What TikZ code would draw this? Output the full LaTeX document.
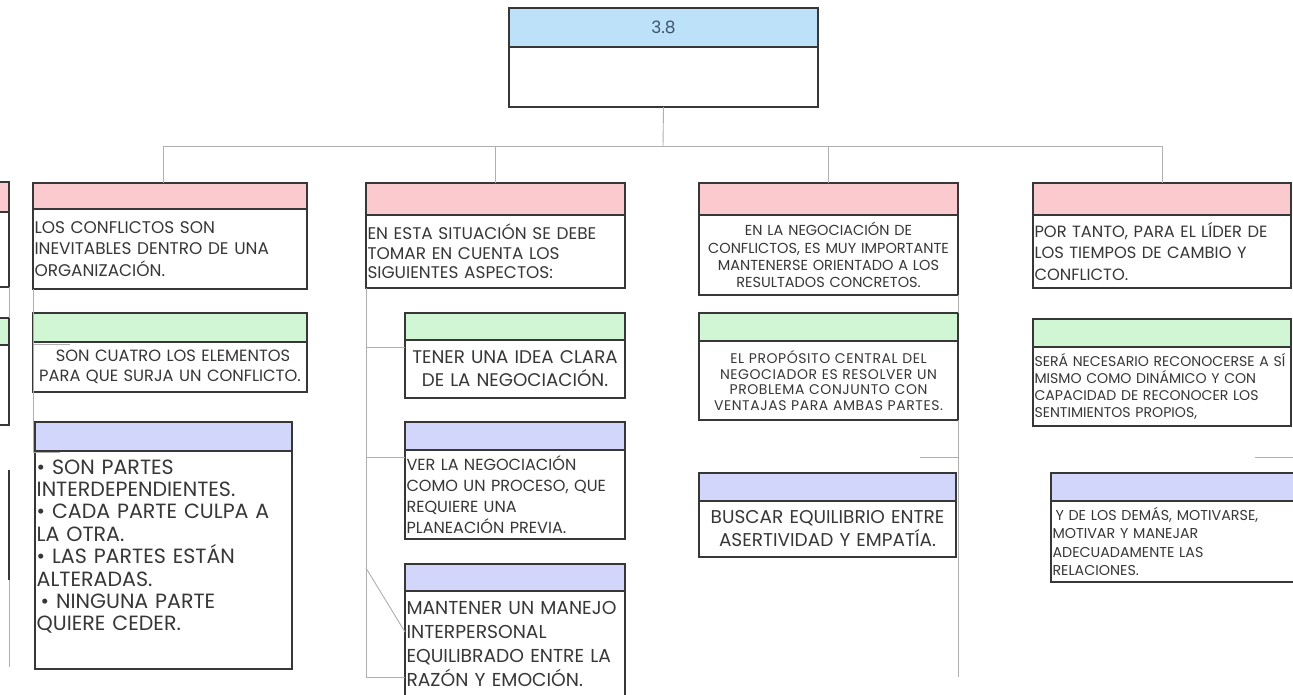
\documentclass[tikz,border=0pt]{standalone}
\usepackage{fontspec}
\setmainfont{Poppins}
\definecolor{hblue}{RGB}{190,225,250}
\definecolor{hpink}{RGB}{250,202,206}
\definecolor{hgreen}{RGB}{208,246,212}
\definecolor{hlav}{RGB}{210,214,250}
\definecolor{bline}{RGB}{55,55,55}
\definecolor{cline}{RGB}{175,175,175}
\definecolor{txt}{RGB}{55,55,55}
\definecolor{ttl}{RGB}{60,85,110}
\tikzset{
  hdr/.style={draw=bline,line width=1.1pt,anchor=north west,inner sep=0pt,outer sep=0pt},
  bodybox/.style={draw=bline,line width=1.1pt,anchor=north west,inner xsep=1.5pt,inner ysep=0pt,outer sep=0pt,text=txt},
  conn/.style={draw=cline,line width=0.9pt},
}
\begin{document}
\begin{tikzpicture}[x=1pt,y=-1pt]
\useasboundingbox[fill=white] (0,0) rectangle (1293,695);

% top
\node[hdr,fill=hblue,minimum width=309pt,minimum height=39pt,text=ttl,font=\fontsize{17}{20}\selectfont] (th) at (509,8) {3.8};
\node[bodybox,fill=white,minimum width=309pt,minimum height=60pt] (tb) at (th.south west) {};

% left partial column
\node[hdr,fill=hpink,minimum width=69pt,minimum height=30pt] (l1h) at (-60,182) {};
\node[bodybox,minimum width=69pt,minimum height=75pt] (l1b) at (l1h.south west) {};
\node[hdr,fill=hgreen,minimum width=69pt,minimum height=27pt] (l2h) at (-60,318) {};
\node[bodybox,minimum width=69pt,minimum height=80pt] (l2b) at (l2h.south west) {};
\draw[bline,line width=1.1pt] (9,470) -- (9,580);
\draw[conn] (9,580) -- (9,667);
\draw[conn] (l1b.south east) -- (l2h.north east);

% column 1
\node[hdr,fill=hpink,minimum width=274pt,minimum height=26pt] (c1ph) at (33,183) {};
\node[bodybox,minimum width=274pt,minimum height=80pt,text width=271pt,align=left,font=\fontsize{16.9}{21.5}\selectfont] (c1pb) at (c1ph.south west)
 {LOS CONFLICTOS SON\\INEVITABLES DENTRO DE UNA\\ORGANIZACIÓN.};
\node[hdr,fill=hgreen,minimum width=274pt,minimum height=29pt] (c1gh) at (33,313) {};
\node[bodybox,minimum width=274pt,minimum height=50pt,text width=271pt,align=center,font=\fontsize{16.3}{20}\selectfont] (c1gb) at (c1gh.south west)
 {\hspace*{6pt}SON CUATRO LOS ELEMENTOS\\PARA QUE SURJA UN CONFLICTO.};
\node[hdr,fill=hlav,minimum width=257pt,minimum height=29pt] (c1bh) at (35,422) {};
\node[bodybox,minimum width=257pt,minimum height=218pt] (c1bb) at (c1bh.south west) {};
\node[anchor=west,inner sep=0pt,text=txt,text width=254pt,align=left,font=\fontsize{20.6}{22.4}\selectfont] (c1bt) at (36.5,546.5)
 {• SON PARTES\\INTERDEPENDIENTES.\\• CADA PARTE CULPA A\\LA OTRA.\\• LAS PARTES ESTÁN\\ALTERADAS.\\\hspace*{4pt}• NINGUNA PARTE\\QUIERE CEDER.};

% column 2
\node[hdr,fill=hpink,minimum width=259pt,minimum height=32pt] (c2ph) at (366,183) {};
\node[bodybox,minimum width=259pt,minimum height=73pt,text width=256pt,align=left,font=\fontsize{16.9}{19.5}\selectfont] (c2pb) at (c2ph.south west)
 {EN ESTA SITUACIÓN SE DEBE\\TOMAR EN CUENTA LOS\\SIGUIENTES ASPECTOS:};
\node[hdr,fill=hgreen,minimum width=220pt,minimum height=27pt] (c2gh) at (405,313) {};
\node[bodybox,minimum width=220pt,minimum height=58pt,text width=217pt,align=center,font=\fontsize{18.3}{23}\selectfont] (c2gb) at (c2gh.south west)
 {TENER UNA IDEA CLARA\\DE LA NEGOCIACIÓN.};
\node[hdr,fill=hlav,minimum width=220pt,minimum height=28pt] (c2ah) at (405,422) {};
\node[bodybox,minimum width=220pt,minimum height=89pt,text width=217pt,align=left,font=\fontsize{16.1}{20.8}\selectfont] (c2ab) at (c2ah.south west)
 {VER LA NEGOCIACIÓN\\COMO UN PROCESO, QUE\\REQUIERE UNA\\PLANEACIÓN PREVIA.};
\node[hdr,fill=hlav,minimum width=220pt,minimum height=27pt] (c2bh) at (405,564) {};
\node[bodybox,minimum width=220pt,minimum height=106pt,text width=217pt,align=left,font=\fontsize{18.7}{24.3}\selectfont] (c2bb) at (c2bh.south west)
 {MANTENER UN MANEJO\\INTERPERSONAL\\EQUILIBRADO ENTRE LA\\RAZÓN Y EMOCIÓN.};

% column 3
\node[hdr,fill=hpink,minimum width=259pt,minimum height=32pt] (c3ph) at (699,183) {};
\node[bodybox,minimum width=259pt,minimum height=80pt,text width=256pt,align=center,font=\fontsize{14.5}{17.3}\selectfont] (c3pb) at (c3ph.south west)
 {EN LA NEGOCIACIÓN DE\\CONFLICTOS, ES MUY IMPORTANTE\\MANTENERSE ORIENTADO A LOS\\RESULTADOS CONCRETOS.};
\node[hdr,fill=hgreen,minimum width=259pt,minimum height=28pt] (c3gh) at (699,313) {};
\node[bodybox,minimum width=259pt,minimum height=79pt,text width=256pt,align=center,font=\fontsize{14}{15.5}\selectfont\addfontfeature{LetterSpace=4}] (c3gb) at (c3gh.south west)
 {EL PROPÓSITO CENTRAL DEL\\NEGOCIADOR ES RESOLVER UN\\PROBLEMA CONJUNTO CON\\VENTAJAS PARA AMBAS PARTES.};
\node[hdr,fill=hlav,minimum width=257pt,minimum height=28pt] (c3bh) at (699,473) {};
\node[bodybox,minimum width=257pt,minimum height=56pt,text width=254pt,align=center,font=\fontsize{18.5}{23}\selectfont] (c3bb) at (c3bh.south west)
 {BUSCAR EQUILIBRIO ENTRE\\ASERTIVIDAD Y EMPATÍA.};

% column 4
\node[hdr,fill=hpink,minimum width=258pt,minimum height=32pt] (c4ph) at (1033,183) {};
\node[bodybox,minimum width=258pt,minimum height=73pt,text width=255pt,align=left,font=\fontsize{16.3}{21.7}\selectfont] (c4pb) at (c4ph.south west)
 {POR TANTO, PARA EL LÍDER DE\\LOS TIEMPOS DE CAMBIO Y\\CONFLICTO.};
\node[hdr,fill=hgreen,minimum width=258pt,minimum height=28pt] (c4gh) at (1033,319) {};
\node[bodybox,minimum width=258pt,minimum height=79pt,text width=255pt,align=left,font=\fontsize{14.1}{16.7}\selectfont] (c4gb) at (c4gh.south west)
 {SERÁ NECESARIO RECONOCERSE A SÍ\\MISMO COMO DINÁMICO Y CON\\CAPACIDAD DE RECONOCER LOS\\SENTIMIENTOS PROPIOS,};
\node[hdr,fill=hlav,minimum width=258pt,minimum height=28pt] (c4bh) at (1051,473) {};
\node[bodybox,minimum width=258pt,minimum height=81pt,text width=255pt,align=left,font=\fontsize{14.3}{18.3}\selectfont] (c4bb) at (c4bh.south west)
 {\hspace*{3pt}Y DE LOS DEMÁS, MOTIVARSE,\\MOTIVAR Y MANEJAR\\ADECUADAMENTE LAS\\RELACIONES.};

% tree connectors
\coordinate (bus) at (663,146);
\coordinate (busL) at (163,146);
\coordinate (busR) at (1162,146);
\draw[conn] (tb.south) -- (bus);
\draw[conn] (busL) -- (busR);
\draw[conn] (busL) -- (busL |- c1ph.north);
\draw[conn] (c2ph.north) -- (c2ph.north |- bus);
\draw[conn] (c3ph.north) -- (c3ph.north |- bus);
\draw[conn] (busR) -- (busR |- c4ph.north);

% column 1 side connector
\coordinate (k1) at (33,452);
\coordinate (j0) at (33,344);
\draw[conn] (c1pb.south west) -- (k1) -- ++(27,0);
\draw[conn] (j0) -- ++(37,0);

% column 2 side connector
\coordinate (k2) at (366,677);
\coordinate (j1) at (366,347);
\coordinate (j2) at (366,457);
\coordinate (j3) at (366,568);
\coordinate (j3e) at (405,632);
\draw[conn] (c2pb.south west) -- (k2) -- (k2 -| c2bb.west);
\draw[conn] (j1) -- (j1 -| c2gb.west);
\draw[conn] (j2) -- (j2 -| c2ab.west);
\draw[conn] (j3) -- (j3e);

% column 3 side connector
\coordinate (k3) at (958,677);
\coordinate (j5) at (958,457);
\coordinate (j5e) at (920,457);
\draw[conn] (c3pb.south east) -- (c3gh.north east);
\draw[conn] (c3gb.south east) -- (k3);
\draw[conn] (j5) -- (j5e);

% column 4 stub
\coordinate (j6) at (1255,457);
\coordinate (j6e) at (1300,457);
\draw[conn] (j6) -- (j6e);
\end{tikzpicture}
\end{document}
